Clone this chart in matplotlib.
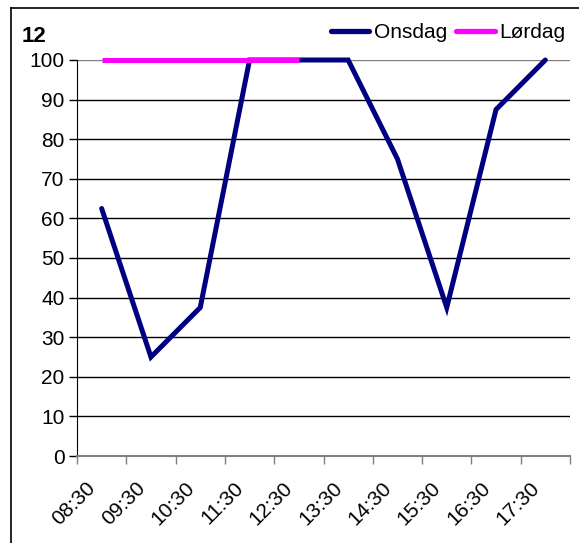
import matplotlib
matplotlib.use("Agg")
import matplotlib.pyplot as plt
import matplotlib.transforms as mtransforms
import numpy as np
from matplotlib.lines import Line2D

categories = ["08:30", "09:30", "10:30", "11:30", "12:30", "13:30", "14:30", "15:30", "16:30", "17:30"]
onsdag = [62.5, 25, 37.5, 100, 100, 100, 75, 37.5, 87.5, 100]
lordag = [100, 100, 100, 100, 100]
title = "12"

plt.rcParams['font.family'] = ['Liberation Sans', 'DejaVu Sans']

W, H = 579, 543
fig = plt.figure(figsize=(W/100, H/100), dpi=100)
ax = fig.add_axes([77/W, 1-456/H, (570-77)/W, (456-60)/H])

x = np.arange(len(categories))
ax.plot(x, onsdag, color='#000080', lw=3.6, solid_capstyle='round', solid_joinstyle='miter',
        zorder=3, clip_on=False, label='Onsdag')
ax.plot(x[:len(lordag)], lordag, color='#ff00ff', lw=3.6, solid_capstyle='butt',
        zorder=4, clip_on=False, label='Lørdag')

ax.set_xlim(-0.5, len(categories)-0.5)
ax.set_ylim(0, 100)
ax.set_yticks(np.arange(0, 101, 10))
ax.yaxis.grid(True, color='black', lw=1)
ax.get_ygridlines()[-1].set_color('#808080')
ax.set_axisbelow(True)
ax.tick_params(axis='y', length=6, width=1, labelsize=15, pad=3, color='black')
ax.set_xticks(x)
ax.set_xticklabels(categories, rotation=45, ha='right', va='center', rotation_mode='anchor', fontsize=15)
ax.set_xticks(np.arange(-0.5, len(categories), 1), minor=True)
ax.tick_params(axis='x', which='major', length=0, pad=0)
ax.tick_params(axis='x', which='minor', length=6, width=1, color='#808080')
off = mtransforms.ScaledTranslation(-9/100, -29/100, fig.dpi_scale_trans)
for lab in ax.get_xticklabels():
    lab.set_transform(lab.get_transform() + off)
for s in ['top', 'right']:
    ax.spines[s].set_visible(False)
ax.spines['left'].set_color('black')
ax.spines['bottom'].set_color('#808080')
ax.spines['bottom'].set_linewidth(1.5)

handles = [Line2D([], [], color='#000080', lw=3.8, solid_capstyle='round'),
           Line2D([], [], color='#ff00ff', lw=3.8, solid_capstyle='round')]
fig.legend(handles, ['Onsdag', 'Lørdag'], loc='center right', bbox_to_anchor=(565/W, 1-33/H),
           ncol=2, frameon=False, fontsize=15, handlelength=1.85, handletextpad=0.2,
           columnspacing=0.45, borderpad=0, borderaxespad=0)

fig.text(22/W, 1-37/H, title, fontsize=16, fontweight='bold', va='center', ha='left')

fig.add_artist(Line2D([11/W, 11/W], [0, 1-8/H], color='black', lw=1.2, transform=fig.transFigure))
fig.add_artist(Line2D([11/W, 1], [1-8/H, 1-8/H], color='black', lw=1.2, transform=fig.transFigure))

fig.savefig("out.png", dpi=100)
